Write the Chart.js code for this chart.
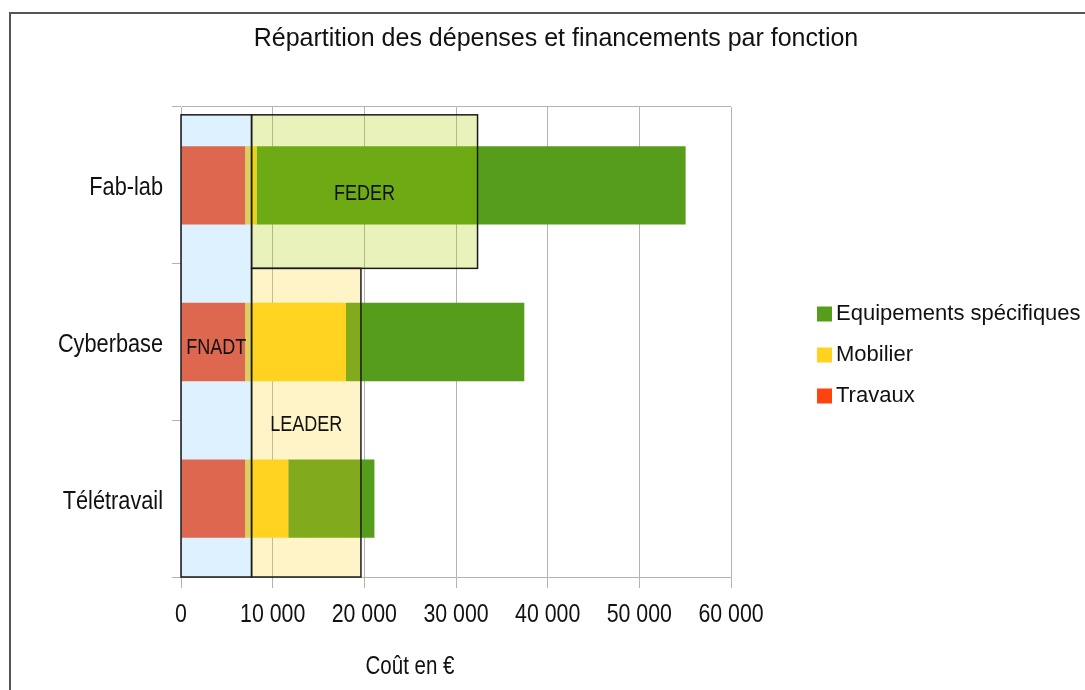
<!DOCTYPE html>
<html lang="fr">
<head>
<meta charset="utf-8">
<title>Répartition des dépenses et financements par fonction</title>
<script src="https://cdn.jsdelivr.net/npm/chart.js@4.4.1/dist/chart.umd.min.js"></script>
<style>
  html,
  body {
    margin: 0;
    padding: 0;
    background: #fff;
  }
  #wrap {
    position: relative;
    width: 1085px;
    height: 690px;
    overflow: hidden;
  }
  #frame {
    position: absolute;
    left: 9px;
    top: 12px;
    width: 1200px;
    height: 800px;
    border-left: 2px solid #555;
    border-top: 2px solid #555;
  }
  #myChart {
    position: absolute;
    left: 0;
    top: 0;
  }
</style>
</head>
<body>
<div id="wrap">
  <div id="frame"></div>
  <canvas id="myChart" width="1085" height="690"></canvas>
</div>
<script>
const categories = ["Fab-lab", "Cyberbase", "Télétravail"];
const travaux = [7000, 7000, 7000];
const mobilier = [1250, 11000, 4700];
const equipements = [46800, 19450, 9400];
const xTicks = [0, 10000, 20000, 30000, 40000, 50000, 60000];

// financements : montants couverts (en €) et fonctions couvertes (index de catégorie)
const fundNames = ["FNADT", "FEDER", "LEADER"];
const fundFrom = [0, 7700, 7700];
const fundTo = [7700, 32350, 19630];
const fundCatStart = [-0.45, -0.45, 0.53];
const fundCatEnd = [2.5, 0.53, 2.5];

const FONT = "'Liberation Sans', Arial, sans-serif";
const NARROW_RATIO = 0.82; // pas de police étroite installée : on compresse le texte
const GRID = "#b3b3b3";
const TEXT = "#111";
const fundColors = [
  "rgba(131, 202, 255, 0.27)",
  "rgba(174, 207, 0, 0.27)",
  "rgba(255, 211, 32, 0.25)",
];

const formatEuro = (value) =>
  String(value).replace(/\B(?=(\d{3})+(?!\d))/g, " ");

const drawNarrow = (ctx, text, x, y, size, align) => {
  ctx.save();
  ctx.translate(x, y);
  ctx.scale(NARROW_RATIO, 1);
  ctx.font = `${size}px ${FONT}`;
  ctx.textAlign = align;
  ctx.textBaseline = "alphabetic";
  ctx.fillStyle = TEXT;
  ctx.fillText(text, 0, 0);
  ctx.restore();
};

const overlayPlugin = {
  id: "financements",
  afterDatasetsDraw(chart) {
    const { ctx } = chart;
    const x = chart.scales.x;
    const y = chart.scales.y;
    ctx.save();

    // cadres des financements, par-dessus les barres
    fundNames.forEach((name, i) => {
      const left = x.getPixelForValue(fundFrom[i]);
      const right = x.getPixelForValue(fundTo[i]);
      const top = y.getPixelForValue(fundCatStart[i]);
      const bottom = y.getPixelForValue(fundCatEnd[i]);
      ctx.fillStyle = fundColors[i];
      ctx.fillRect(left, top, right - left, bottom - top);
      ctx.strokeStyle = "#1a1a1a";
      ctx.lineWidth = 1.5;
      ctx.strokeRect(left, top, right - left, bottom - top);
      drawNarrow(ctx, name, (left + right) / 2, (top + bottom) / 2 + 8, 22, "center");
    });

    // étiquettes des axes
    x.ticks.forEach((tick) => {
      drawNarrow(ctx, formatEuro(tick.value), x.getPixelForValue(tick.value), 622, 26, "center");
    });
    chart.data.labels.forEach((label, i) => {
      drawNarrow(ctx, label, 163, y.getPixelForValue(i) + 10, 26.5, "right");
    });
    drawNarrow(ctx, "Coût en €", 410, 674, 25, "center");

    // titre
    ctx.fillStyle = TEXT;
    ctx.font = `25px ${FONT}`;
    ctx.textAlign = "center";
    ctx.textBaseline = "alphabetic";
    ctx.fillText("Répartition des dépenses et financements par fonction", 556, 46);

    // légende (ordre inversé comme dans l'original)
    ctx.font = `22px ${FONT}`;
    ctx.textAlign = "left";
    ctx.textBaseline = "middle";
    const items = chart.data.datasets.slice().reverse();
    items.forEach((ds, i) => {
      const cy = 314 + i * 41;
      ctx.fillStyle = ds.backgroundColor;
      ctx.fillRect(817, cy - 7.5, 15, 15);
      ctx.fillStyle = TEXT;
      ctx.fillText(ds.label, 836, cy);
    });

    ctx.restore();
  },
};

const main = () => {
  const ctx = document.querySelector("#myChart");
  new Chart(ctx, {
    type: "bar",
    data: {
      labels: categories,
      datasets: [
        { label: "Travaux", data: travaux, backgroundColor: "#ff420e" },
        { label: "Mobilier", data: mobilier, backgroundColor: "#ffd320" },
        { label: "Equipements spécifiques", data: equipements, backgroundColor: "#579d1c" },
      ],
    },
    options: {
      indexAxis: "y",
      responsive: false,
      animation: false,
      layout: { padding: { left: 0, top: 107, right: 354, bottom: 0 } },
      datasets: { bar: { barPercentage: 0.5, categoryPercentage: 1 } },
      plugins: {
        legend: { display: false },
        title: { display: false },
        tooltip: { enabled: false },
      },
      scales: {
        x: {
          stacked: true,
          min: xTicks[0],
          max: xTicks[xTicks.length - 1],
          afterBuildTicks: (scale) => {
            scale.ticks = xTicks.map((value) => ({ value }));
          },
          ticks: { display: false },
          grid: { color: GRID, tickColor: GRID, tickLength: 11 },
          border: { color: GRID },
          afterFit: (scale) => {
            scale.height = 113;
          },
        },
        y: {
          stacked: true,
          ticks: { display: false },
          grid: {
            color: (c) =>
              c.index === 0 || c.index === categories.length ? GRID : "rgba(0,0,0,0)",
            tickColor: GRID,
            tickLength: 9,
          },
          border: { color: GRID },
          afterFit: (scale) => {
            scale.width = 181;
          },
        },
      },
    },
    plugins: [overlayPlugin],
  });
};
main();
</script>
</body>
</html>
